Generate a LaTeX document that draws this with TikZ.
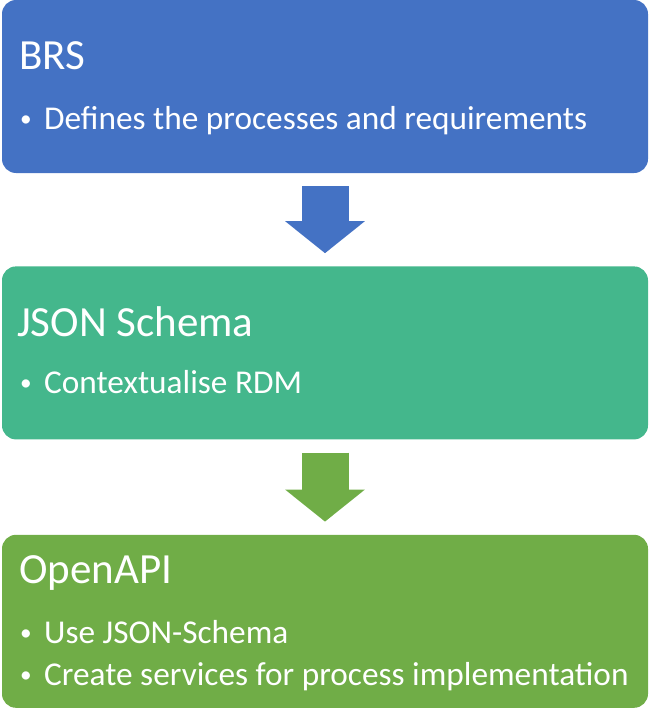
\documentclass[tikz,border=0pt]{standalone}
\usepackage{fontspec}
\setmainfont{Carlito}
\usepackage{tikz}
\usetikzlibrary{arrows.meta, positioning}
\definecolor{brsblue}{HTML}{4472C4}
\definecolor{schemateal}{HTML}{44B78C}
\definecolor{apigreen}{HTML}{70AD47}
\tikzstyle{stage} = [rectangle, rounded corners=14pt, minimum width=646pt, minimum height=173pt, inner sep=0pt, draw=none]
\tikzstyle{heading} = [anchor=base west, inner sep=0pt, text=white, font=\fontsize{43}{50}\selectfont]
\tikzstyle{item} = [anchor=base west, inner sep=0pt, text=white, font=\fontsize{33.3}{40}\selectfont]
\tikzstyle{flow} = [line width=47pt, -{Triangle[width=78pt, length=32pt]}, shorten <=13pt, shorten >=13pt]
\newcommand{\bul}{\makebox[24pt][l]{\raisebox{2.5pt}{\scalebox{0.7}{\textbullet}}}}

\begin{document}
\begin{tikzpicture}[x=1pt, y=-1pt]
\useasboundingbox (0,0) rectangle (651,709);
%three stages
\node[stage, fill=brsblue](brs) at (325,86.5){};
\node[stage, fill=schemateal, below=93pt of brs](schema){};
\node[stage, fill=apigreen, below=95pt of schema](openapi){};
%texts
\node[heading](brstitle) at (19,70){BRS};
\node[item](brsitem) at (20,129){\bul Defines the processes and requirements};
\node[heading](schematitle) at (17,336){JSON Schema};
\node[item](schemaitem) at (20,393){\bul Contextualise RDM};
\node[heading](apititle) at (19,583){OpenAPI};
\node[item](apiitemA) at (20,643){\bul Use JSON-Schema};
\node[item](apiitemB) at (20,685){\bul Create services for process implementation};
%arrows
\draw [flow, brsblue] (brs) -- (schema);
\draw [flow, apigreen] (schema) -- (openapi);
\end{tikzpicture}
\end{document}
